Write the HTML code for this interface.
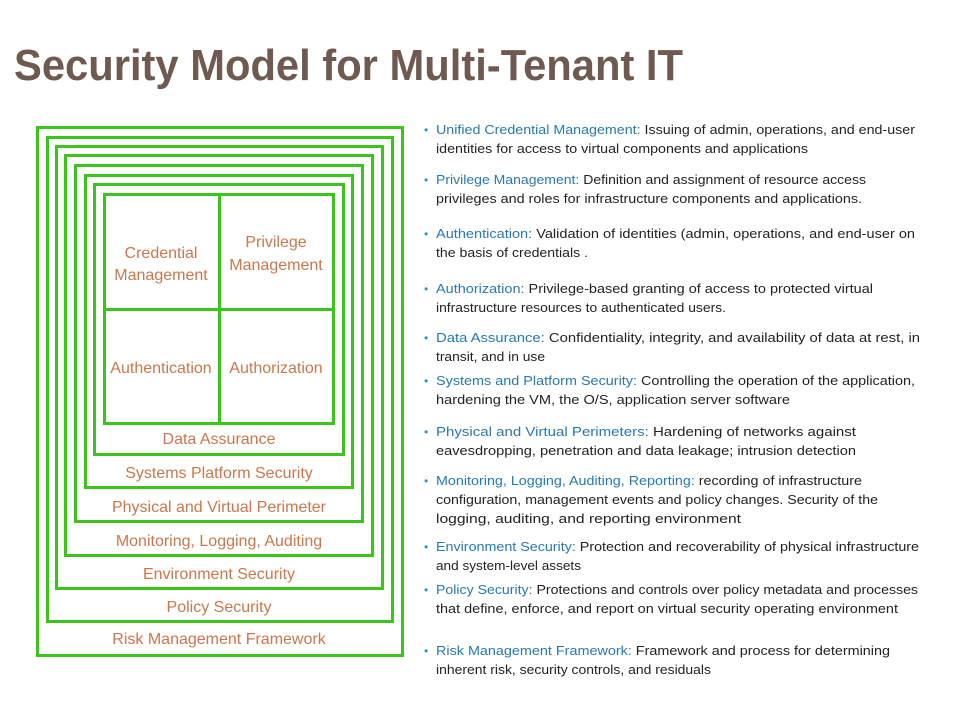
<!DOCTYPE html>
<html><head><meta charset="utf-8"><style>
html,body{margin:0;padding:0;background:#fff;}
svg{display:block;}
.bl{font-family:"Liberation Sans",sans-serif;font-size:16px;fill:#c8784e;text-anchor:middle;}
.t{font-family:"Liberation Sans",sans-serif;font-size:12.5px;fill:#222;}
.h{fill:#2a78b0;}
.b{fill:#3a8fc8;font-size:12px;}
</style></head><body>
<svg width="960" height="720" viewBox="0 0 960 720" xmlns="http://www.w3.org/2000/svg">
<rect width="960" height="720" fill="#fff"/>
<text x="14" y="80" font-family="Liberation Sans, sans-serif" font-weight="bold" font-size="44" fill="#6e5a50" textLength="669" lengthAdjust="spacingAndGlyphs">Security Model for Multi-Tenant IT</text>
<g fill="none" stroke="#3cc41c" stroke-width="3">
<rect x="37.5" y="127.5" width="365" height="528"/>
<rect x="47.5" y="137.5" width="345" height="484"/>
<rect x="56.5" y="146.5" width="326" height="442"/>
<rect x="65.5" y="155.5" width="307" height="400"/>
<rect x="75.5" y="165.5" width="287" height="356"/>
<rect x="85.5" y="175.5" width="267" height="312"/>
<rect x="94.5" y="184.5" width="249" height="270"/>
<rect x="104.5" y="194.5" width="229" height="229"/>
<line x1="219.5" y1="194" x2="219.5" y2="424"/>
<line x1="104" y1="309.5" x2="334" y2="309.5"/>
</g>
<text class="bl" x="161" y="258">Credential</text>
<text class="bl" x="161" y="280">Management</text>
<text class="bl" x="276" y="247">Privilege</text>
<text class="bl" x="276" y="270">Management</text>
<text class="bl" x="161" y="373">Authentication</text>
<text class="bl" x="276" y="373">Authorization</text>
<text class="bl" x="219" y="444">Data Assurance</text>
<text class="bl" x="219" y="478">Systems Platform Security</text>
<text class="bl" x="219" y="512">Physical and Virtual Perimeter</text>
<text class="bl" x="219" y="546">Monitoring, Logging, Auditing</text>
<text class="bl" x="219" y="579">Environment Security</text>
<text class="bl" x="219" y="612">Policy Security</text>
<text class="bl" x="219" y="644">Risk Management Framework</text>

<g class="t">
<text class="t b" x="424" y="134">•</text>
<text class="t" x="436" y="134" textLength="479" lengthAdjust="spacingAndGlyphs"><tspan class="h">Unified Credential Management:</tspan> Issuing of admin, operations, and end-user</text>
<text class="t" x="436" y="153" textLength="372" lengthAdjust="spacingAndGlyphs">identities for access to virtual components and applications</text>

<text class="t b" x="424" y="184">•</text>
<text class="t" x="436" y="184" textLength="430" lengthAdjust="spacingAndGlyphs"><tspan class="h">Privilege Management:</tspan> Definition and assignment of resource  access</text>
<text class="t" x="436" y="203" textLength="426" lengthAdjust="spacingAndGlyphs">privileges and roles for infrastructure  components and applications.</text>

<text class="t b" x="424" y="238">•</text>
<text class="t" x="436" y="238" textLength="479" lengthAdjust="spacingAndGlyphs"><tspan class="h">Authentication:</tspan> Validation of identities  (admin, operations, and end-user on</text>
<text class="t" x="436" y="257" textLength="152" lengthAdjust="spacingAndGlyphs">the basis of credentials .</text>

<text class="t b" x="424" y="293">•</text>
<text class="t" x="436" y="293" textLength="437" lengthAdjust="spacingAndGlyphs"><tspan class="h">Authorization:</tspan> Privilege-based granting of access to protected virtual</text>
<text class="t" x="436" y="312" textLength="290" lengthAdjust="spacingAndGlyphs">infrastructure resources to authenticated users.</text>

<text class="t b" x="424" y="342">•</text>
<text class="t" x="436" y="342" textLength="484" lengthAdjust="spacingAndGlyphs"><tspan class="h">Data Assurance:</tspan> Confidentiality, integrity, and availability of data at rest, in</text>
<text class="t" x="436" y="361" textLength="109" lengthAdjust="spacingAndGlyphs">transit, and in use</text>

<text class="t b" x="424" y="385">•</text>
<text class="t" x="436" y="385" textLength="479" lengthAdjust="spacingAndGlyphs"><tspan class="h">Systems and Platform Security:</tspan> Controlling the operation of the application,</text>
<text class="t" x="436" y="404" textLength="354" lengthAdjust="spacingAndGlyphs">hardening the VM, the O/S, application server software</text>

<text class="t b" x="424" y="436">•</text>
<text class="t" x="436" y="436" textLength="420" lengthAdjust="spacingAndGlyphs"><tspan class="h">Physical and Virtual Perimeters:</tspan>  Hardening of networks against</text>
<text class="t" x="436" y="455" textLength="420" lengthAdjust="spacingAndGlyphs">eavesdropping, penetration and data leakage; intrusion detection</text>

<text class="t b" x="424" y="485">•</text>
<text class="t" x="436" y="485" textLength="426" lengthAdjust="spacingAndGlyphs"><tspan class="h">Monitoring, Logging, Auditing, Reporting:</tspan> recording of infrastructure</text>
<text class="t" x="436" y="504" textLength="442" lengthAdjust="spacingAndGlyphs">configuration, management events and policy changes. Security of the</text>
<text class="t" x="436" y="523" textLength="305" lengthAdjust="spacingAndGlyphs">logging, auditing, and reporting environment</text>

<text class="t b" x="424" y="551">•</text>
<text class="t" x="436" y="551" textLength="483" lengthAdjust="spacingAndGlyphs"><tspan class="h">Environment Security:</tspan> Protection and recoverability of physical  infrastructure</text>
<text class="t" x="436" y="570" textLength="145" lengthAdjust="spacingAndGlyphs">and system-level assets</text>

<text class="t b" x="424" y="594">•</text>
<text class="t" x="436" y="594" textLength="482" lengthAdjust="spacingAndGlyphs"><tspan class="h">Policy Security:</tspan> Protections and controls over policy metadata and processes</text>
<text class="t" x="436" y="613" textLength="462" lengthAdjust="spacingAndGlyphs">that define, enforce, and report on virtual security operating environment</text>

<text class="t b" x="424" y="655">•</text>
<text class="t" x="436" y="655" textLength="454" lengthAdjust="spacingAndGlyphs"><tspan class="h">Risk Management Framework:</tspan>   Framework and process for determining</text>
<text class="t" x="436" y="674" textLength="275" lengthAdjust="spacingAndGlyphs">inherent risk, security controls, and residuals</text>
</g>
</svg>
</body></html>
